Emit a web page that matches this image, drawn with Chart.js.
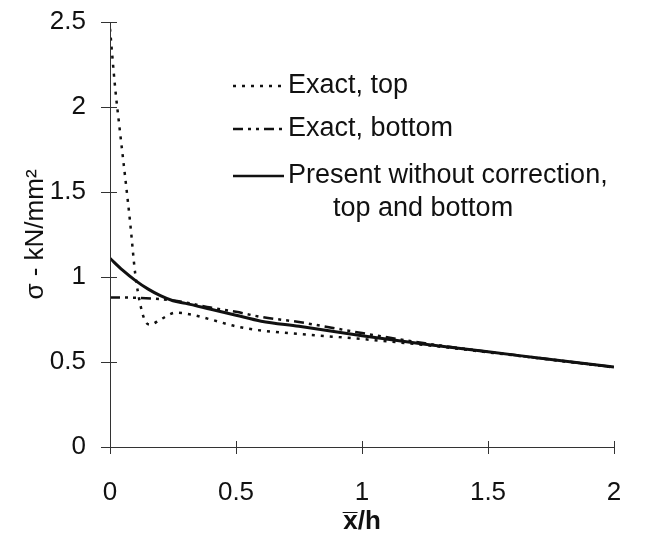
<!DOCTYPE html>
<html lang="en">
<head>
<meta charset="UTF-8">
<title>Stress along the interface</title>
<script src="https://cdn.jsdelivr.net/npm/chart.js"></script>
<style>
  html, body { margin: 0; padding: 0; background: #fff; }
  #wrap { width: 645px; height: 537px; }
</style>
</head>
<body>
<div id="wrap"><canvas id="stressChart" width="645" height="537"></canvas></div>
<script>
// x/h positions and stresses (kN/mm^2) for each curve
const xTop = [0, 0.02, 0.04, 0.06, 0.08, 0.1, 0.12, 0.14, 0.16, 0.2, 0.26, 0.32, 0.4, 0.5, 0.6, 0.75, 1, 1.25, 1.5, 1.75, 2];
const sigmaTop = [2.46, 2.12, 1.85, 1.59, 1.32, 1.02, 0.84, 0.74, 0.72, 0.75, 0.79, 0.78, 0.75, 0.71, 0.685, 0.665, 0.635, 0.6, 0.557, 0.513, 0.468];

const xBottom = [0, 0.1, 0.2, 0.25, 0.3, 0.4, 0.5, 0.6, 0.75, 1, 1.25, 1.5, 1.75, 2];
const sigmaBottom = [0.88, 0.878, 0.87, 0.862, 0.85, 0.82, 0.795, 0.765, 0.735, 0.67, 0.61, 0.56, 0.515, 0.47];

const xPresent = [0, 0.05, 0.1, 0.15, 0.2, 0.25, 0.3, 0.4, 0.5, 0.6, 0.75, 1, 1.25, 1.5, 1.75, 2];
const sigmaPresent = [1.11, 1.04, 0.98, 0.93, 0.89, 0.86, 0.845, 0.81, 0.775, 0.74, 0.71, 0.655, 0.605, 0.56, 0.515, 0.47];

const xTicks = [0, 0.5, 1, 1.5, 2];
const yTicks = [0, 0.5, 1, 1.5, 2, 2.5];

const DOTS = [3, 6];
const DASH_DOT = [10, 5, 3, 5, 3, 5];

const legendRows = [
  { text: 'Exact, top', dash: DOTS, width: 2.5 },
  { text: 'Exact, bottom', dash: DASH_DOT, width: 2.5 },
  { text: 'Present without correction,', dash: [], width: 2.5 }
];
const legendExtra = 'top and bottom';

const FONT = '"Liberation Sans", Arial, sans-serif';
const INK = '#111';

function pts(xs, ys) {
  return xs.map((x, i) => ({ x: x, y: ys[i] }));
}

// axis lines with ticks crossing both sides, plus the in-plot legend
const axesAndLegend = {
  id: 'axesAndLegend',
  afterDatasetsDraw(chart) {
    const { ctx, scales } = chart;
    const sx = scales.x, sy = scales.y;
    const x0 = sx.getPixelForValue(0), y0 = sy.getPixelForValue(0);
    ctx.save();
    ctx.strokeStyle = '#333';
    ctx.lineWidth = 1;
    ctx.beginPath();
    ctx.moveTo(x0 + 0.5, sy.getPixelForValue(2.5));
    ctx.lineTo(x0 + 0.5, y0);
    ctx.moveTo(x0, y0 + 0.5);
    ctx.lineTo(sx.getPixelForValue(2), y0 + 0.5);
    yTicks.forEach(v => {
      const p = Math.round(sy.getPixelForValue(v)) + 0.5;
      ctx.moveTo(x0 - 9, p);
      ctx.lineTo(x0 + 7, p);
    });
    xTicks.forEach(v => {
      const p = Math.round(sx.getPixelForValue(v)) + 0.5;
      ctx.moveTo(p, y0 - 6);
      ctx.lineTo(p, y0 + 7);
    });
    ctx.stroke();

    // legend
    ctx.font = '27px ' + FONT;
    ctx.fillStyle = INK;
    ctx.textBaseline = 'middle';
    const rowY = [86, 129, 176];
    legendRows.forEach((row, i) => {
      ctx.strokeStyle = INK;
      ctx.lineWidth = row.width;
      ctx.setLineDash(row.dash);
      ctx.beginPath();
      ctx.moveTo(233, rowY[i]);
      ctx.lineTo(284, rowY[i]);
      ctx.stroke();
      ctx.setLineDash([]);
      ctx.fillText(row.text, 288, rowY[i]);
    });
    ctx.fillText(legendExtra, 333, 209);
    ctx.restore();
  }
};

const ctx = document.getElementById('stressChart').getContext('2d');
new Chart(ctx, {
  type: 'line',
  data: {
    datasets: [
      {
        label: 'Exact, top',
        data: pts(xTop, sigmaTop),
        borderColor: INK,
        borderWidth: 2.5,
        borderDash: DOTS,
        pointRadius: 0,
        cubicInterpolationMode: 'monotone'
      },
      {
        label: 'Exact, bottom',
        data: pts(xBottom, sigmaBottom),
        borderColor: INK,
        borderWidth: 2.5,
        borderDash: DASH_DOT,
        pointRadius: 0,
        cubicInterpolationMode: 'monotone'
      },
      {
        label: 'Present without correction, top and bottom',
        data: pts(xPresent, sigmaPresent),
        borderColor: INK,
        borderWidth: 3,
        pointRadius: 0,
        cubicInterpolationMode: 'monotone'
      }
    ]
  },
  options: {
    responsive: false,
    animation: false,
    events: [],
    layout: { padding: { top: 22, right: 31, left: 0, bottom: 0 } },
    plugins: { legend: { display: false }, tooltip: { enabled: false } },
    scales: {
      x: {
        type: 'linear',
        min: 0,
        max: 2,
        afterBuildTicks: s => { s.ticks = xTicks.map(v => ({ value: v })); },
        afterFit: s => { s.height = 90; s.paddingLeft = 0; s.paddingRight = 0; },
        grid: { display: false, drawTicks: false },
        border: { display: false },
        ticks: { color: INK, font: { family: FONT, size: 26 }, padding: 30, maxRotation: 0, callback: v => String(v) },
        title: {
          display: true,
          text: 'x\u0305/h',
          color: INK,
          font: { family: FONT, size: 26, weight: 'bold' },
          padding: { top: 0, bottom: 0 }
        }
      },
      y: {
        type: 'linear',
        min: 0,
        max: 2.5,
        afterBuildTicks: s => { s.ticks = yTicks.map(v => ({ value: v })); },
        afterFit: s => { s.width = 110; s.paddingTop = 0; s.paddingBottom = 0; },
        grid: { display: false, drawTicks: false },
        border: { display: false },
        ticks: { color: INK, font: { family: FONT, size: 26 }, padding: 24, callback: v => String(v) },
        title: {
          display: true,
          text: '\u03C3 - kN/mm\u00B2',
          color: INK,
          font: { family: FONT, size: 26 },
          padding: { top: 20, bottom: 0 }
        }
      }
    }
  },
  plugins: [axesAndLegend]
});
</script>
</body>
</html>
